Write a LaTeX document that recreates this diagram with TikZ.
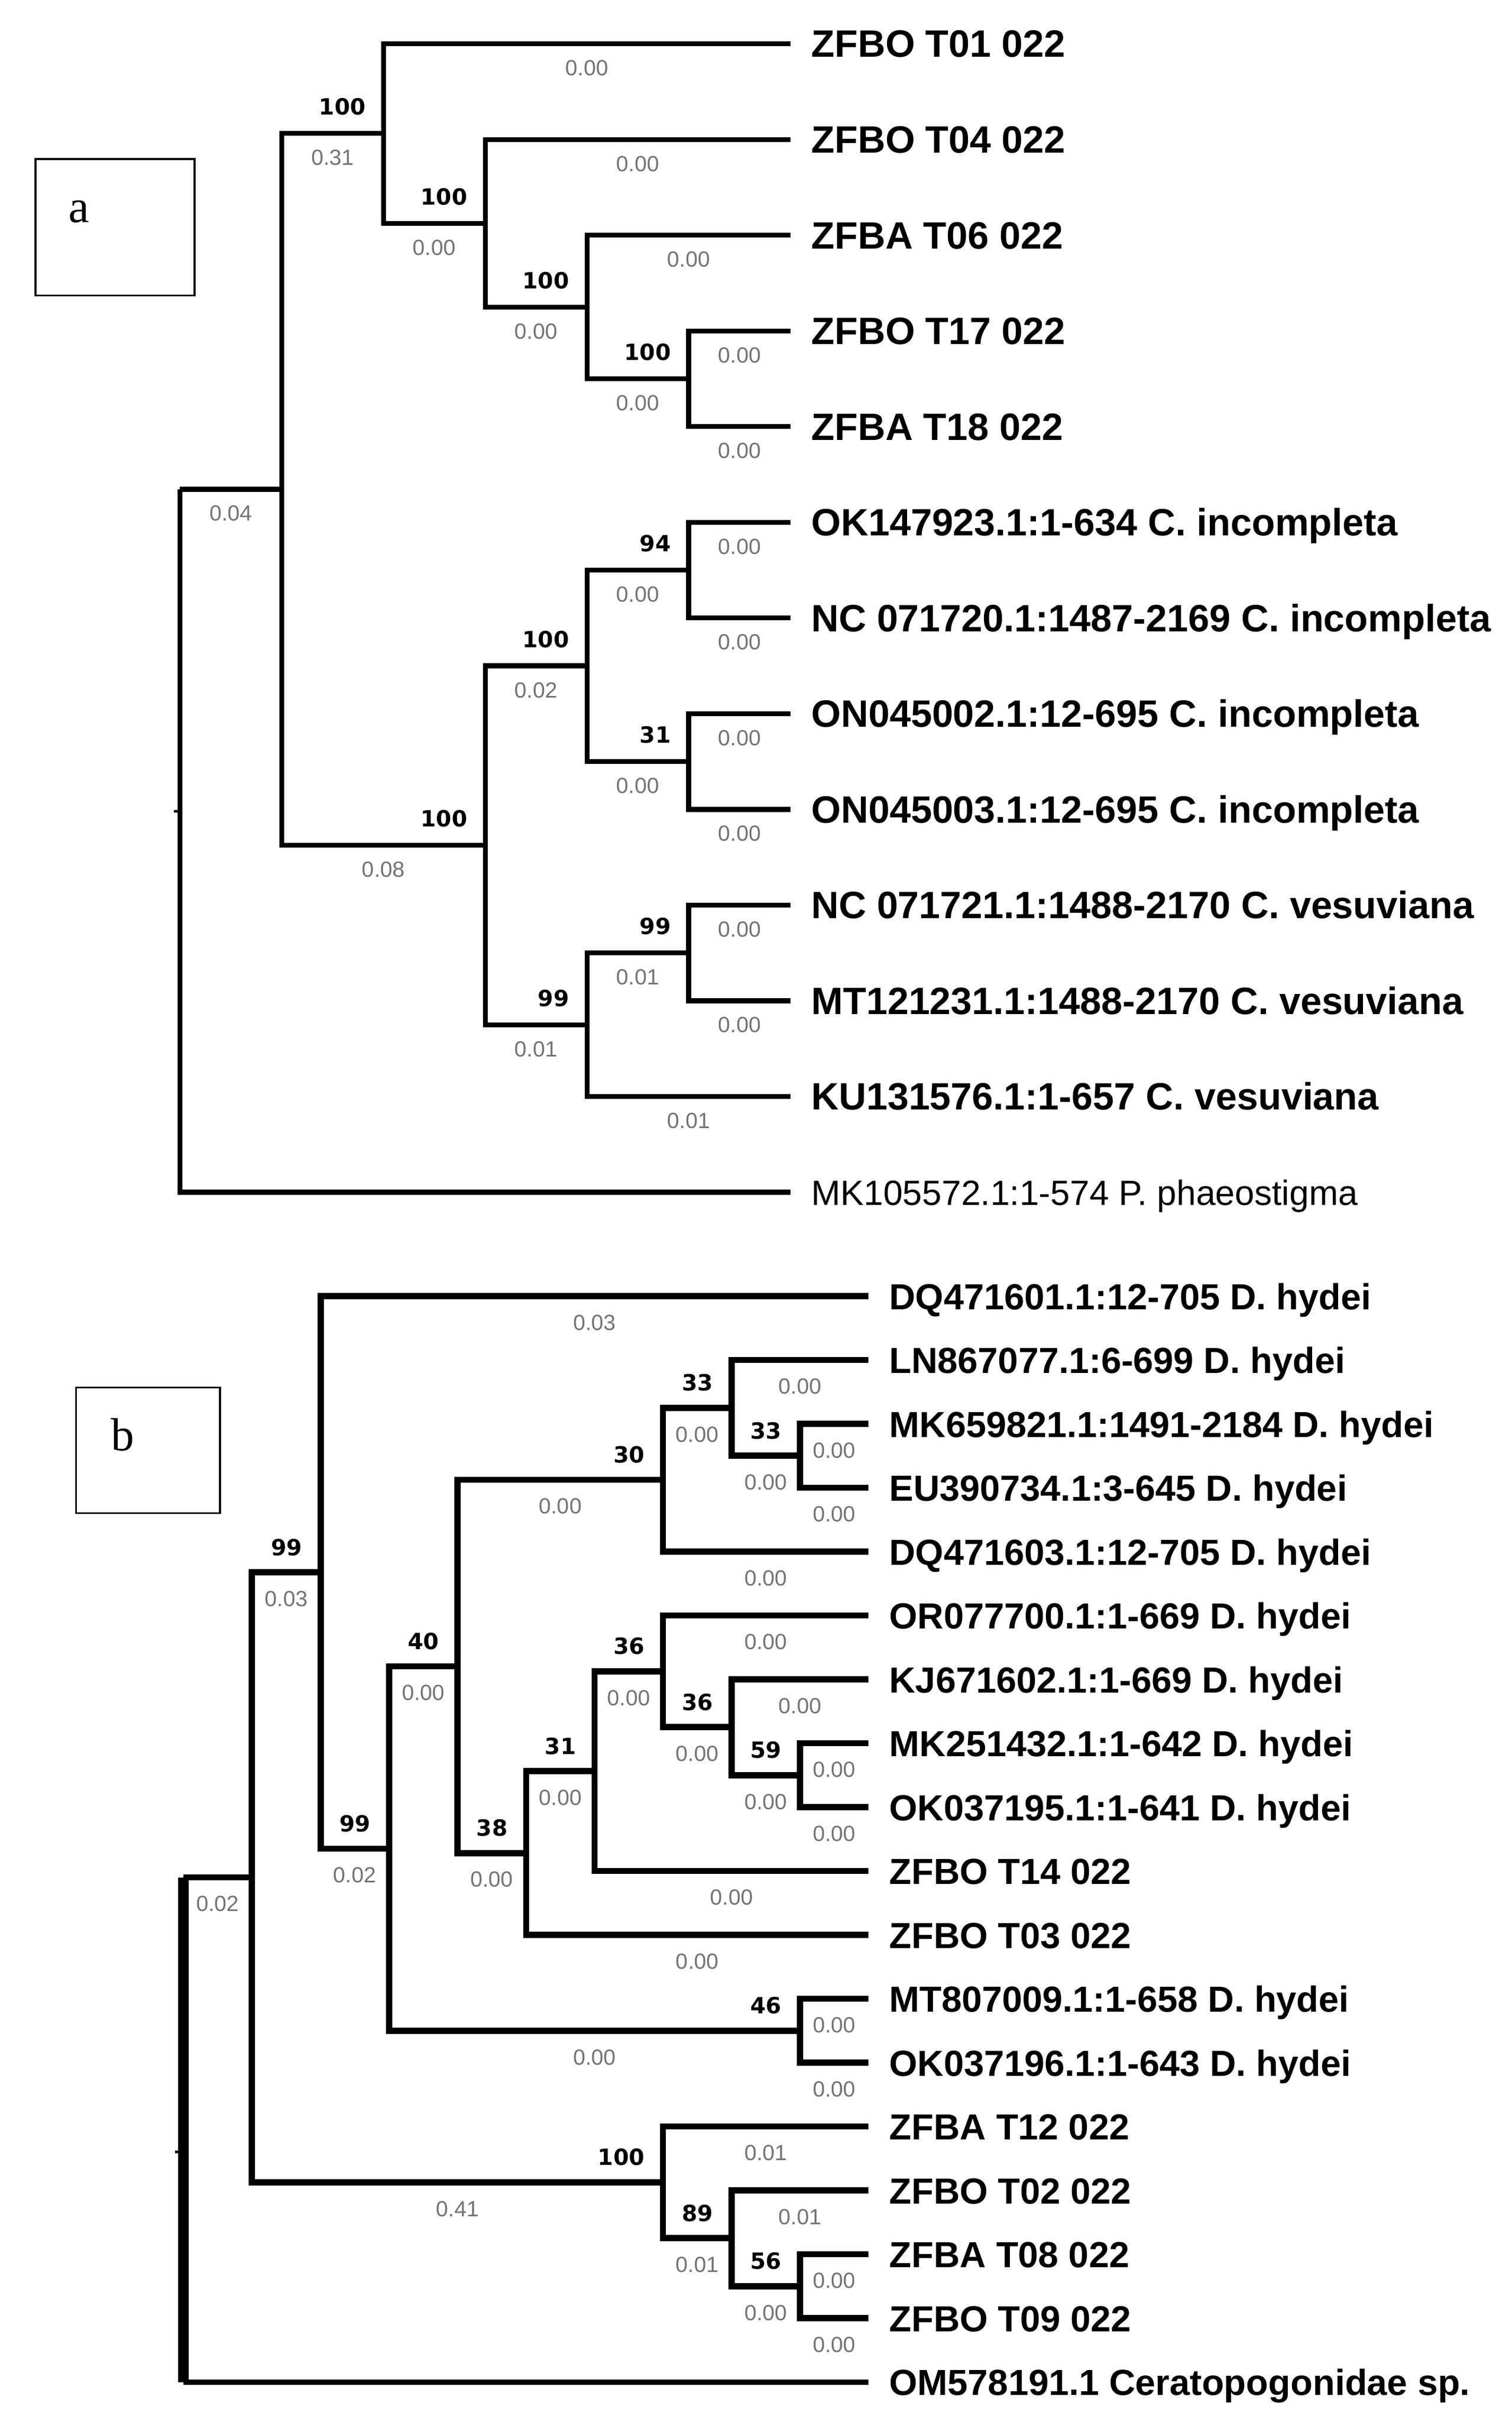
\documentclass[tikz,border=0pt]{standalone}
\usepackage{fontspec}
\setmainfont{Liberation Sans}
\newfontfamily\supfont{DejaVu Sans}
\newfontfamily\lettrefont{Liberation Serif}
\usepackage{tikz}
\tikzset{
Branche/.style={
 draw=black,
 line width=#1,
 line join=miter
 },
Branche/.default={2.7pt},
Support/.style={
 font={\supfont\bfseries\fontsize{12.3}{14}\selectfont},
 anchor=base east,
 inner sep=0pt,
 xshift=-8.5pt,
 yshift=#1
 },
Support/.default={10.2pt},
Longueur/.style={
 font={\fontsize{12.1}{14}\selectfont},
 text=black!55,
 anchor=north,
 inner sep=0pt,
 yshift=#1
 },
Longueur/.default={-7.7pt},
Feuille/.style={
 font={\bfseries\fontsize{#1}{#1}\selectfont},
 anchor=base west,
 inner sep=0pt,
 xshift=11.3pt,
 yshift=-7.4pt
 },
Feuille/.default={21},
FeuilleSimple/.style={
 font={\fontsize{19.3}{20}\selectfont},
 anchor=base west,
 inner sep=0pt,
 xshift=11.3pt,
 yshift=-7.1pt
 },
Cadre/.style={
 draw=black,
 line width=1pt,
 inner sep=0pt
 },
Lettre/.style={
 font={\lettrefont\fontsize{25.6}{26}\selectfont},
 anchor=base west,
 inner sep=0pt
 }
}
\begin{document}
\begin{tikzpicture}[x=0.3mm,y=-0.3mm]
\useasboundingbox (0,0) rectangle (976,1564.1);
% arbre a
\node[Cadre,minimum width=30.81mm,minimum height=26.43mm] (cadre-a) at (74.35,146.75) {};
\node[Lettre] (lettre-a) at (44.0,143.5) {a};
\coordinate (a-root) at (116.2,316.0);
\coordinate (a-A) at (181.9,316.0);
\coordinate (a-B) at (247.6,86.2);
\coordinate (a-C) at (313.3,144.2);
\coordinate (a-D) at (379.0,198.3);
\coordinate (a-E) at (444.7,244.6);
\coordinate (a-F) at (313.3,545.9);
\coordinate (a-G) at (379.0,430.0);
\coordinate (a-H) at (444.7,368.2);
\coordinate (a-I) at (444.7,491.8);
\coordinate (a-J) at (379.0,661.8);
\coordinate (a-K) at (444.7,615.4);
\coordinate (a-t01) at (510.4,28.3);
\coordinate (a-t04) at (510.4,90.1);
\coordinate (a-t06) at (510.4,151.9);
\coordinate (a-t17) at (510.4,213.7);
\coordinate (a-t18) at (510.4,275.5);
\coordinate (a-ok923) at (510.4,337.3);
\coordinate (a-nc720) at (510.4,399.1);
\coordinate (a-on002) at (510.4,460.9);
\coordinate (a-on003) at (510.4,522.7);
\coordinate (a-nc721) at (510.4,584.5);
\coordinate (a-mt231) at (510.4,646.3);
\coordinate (a-ku576) at (510.4,708.1);
\coordinate (a-mk572) at (510.4,769.9);
\coordinate (a-tick) at (116.2,524.0);
\draw[Branche] (a-root) |- (a-A) node[pos=0.75,Longueur] (len-a-A) {0.04};
\draw[Branche] (a-root) |- (a-mk572);
\draw[line width=1.5pt] (a-tick) -- ++(-3.8,0);
\draw[Branche] (a-A) |- (a-B) node[pos=0.75,Longueur] (len-a-B) {0.31} node[pos=1,Support] (bs-a-B) {100};
\draw[Branche] (a-A) |- (a-F) node[pos=0.75,Longueur] (len-a-F) {0.08} node[pos=1,Support] (bs-a-F) {100};
\draw[Branche] (a-B) |- (a-t01) node[pos=0.75,Longueur] (len-a-t01) {0.00};
\draw[Branche] (a-B) |- (a-C) node[pos=0.75,Longueur] (len-a-C) {0.00} node[pos=1,Support] (bs-a-C) {100};
\draw[Branche] (a-C) |- (a-t04) node[pos=0.75,Longueur] (len-a-t04) {0.00};
\draw[Branche] (a-C) |- (a-D) node[pos=0.75,Longueur] (len-a-D) {0.00} node[pos=1,Support] (bs-a-D) {100};
\draw[Branche] (a-D) |- (a-t06) node[pos=0.75,Longueur] (len-a-t06) {0.00};
\draw[Branche] (a-D) |- (a-E) node[pos=0.75,Longueur] (len-a-E) {0.00} node[pos=1,Support] (bs-a-E) {100};
\draw[Branche] (a-E) |- (a-t17) node[pos=0.75,Longueur] (len-a-t17) {0.00};
\draw[Branche] (a-E) |- (a-t18) node[pos=0.75,Longueur] (len-a-t18) {0.00};
\draw[Branche] (a-F) |- (a-G) node[pos=0.75,Longueur] (len-a-G) {0.02} node[pos=1,Support] (bs-a-G) {100};
\draw[Branche] (a-F) |- (a-J) node[pos=0.75,Longueur] (len-a-J) {0.01} node[pos=1,Support] (bs-a-J) {99};
\draw[Branche] (a-G) |- (a-H) node[pos=0.75,Longueur] (len-a-H) {0.00} node[pos=1,Support] (bs-a-H) {94};
\draw[Branche] (a-G) |- (a-I) node[pos=0.75,Longueur] (len-a-I) {0.00} node[pos=1,Support] (bs-a-I) {31};
\draw[Branche] (a-H) |- (a-ok923) node[pos=0.75,Longueur] (len-a-ok923) {0.00};
\draw[Branche] (a-H) |- (a-nc720) node[pos=0.75,Longueur] (len-a-nc720) {0.00};
\draw[Branche] (a-I) |- (a-on002) node[pos=0.75,Longueur] (len-a-on002) {0.00};
\draw[Branche] (a-I) |- (a-on003) node[pos=0.75,Longueur] (len-a-on003) {0.00};
\draw[Branche] (a-J) |- (a-K) node[pos=0.75,Longueur] (len-a-K) {0.01} node[pos=1,Support] (bs-a-K) {99};
\draw[Branche] (a-J) |- (a-ku576) node[pos=0.75,Longueur] (len-a-ku576) {0.01};
\draw[Branche] (a-K) |- (a-nc721) node[pos=0.75,Longueur] (len-a-nc721) {0.00};
\draw[Branche] (a-K) |- (a-mt231) node[pos=0.75,Longueur] (len-a-mt231) {0.00};
\node[Feuille] (lab-a-t01) at (a-t01) {ZFBO T01 022};
\node[Feuille] (lab-a-t04) at (a-t04) {ZFBO T04 022};
\node[Feuille] (lab-a-t06) at (a-t06) {ZFBA T06 022};
\node[Feuille] (lab-a-t17) at (a-t17) {ZFBO T17 022};
\node[Feuille] (lab-a-t18) at (a-t18) {ZFBA T18 022};
\node[Feuille] (lab-a-ok923) at (a-ok923) {OK147923.1:1-634 C. incompleta};
\node[Feuille] (lab-a-nc720) at (a-nc720) {NC 071720.1:1487-2169 C. incompleta};
\node[Feuille] (lab-a-on002) at (a-on002) {ON045002.1:12-695 C. incompleta};
\node[Feuille] (lab-a-on003) at (a-on003) {ON045003.1:12-695 C. incompleta};
\node[Feuille] (lab-a-nc721) at (a-nc721) {NC 071721.1:1488-2170 C. vesuviana};
\node[Feuille] (lab-a-mt231) at (a-mt231) {MT121231.1:1488-2170 C. vesuviana};
\node[Feuille] (lab-a-ku576) at (a-ku576) {KU131576.1:1-657 C. vesuviana};
\node[FeuilleSimple] (lab-a-mk572) at (a-mk572) {MK105572.1:1-574 P. phaeostigma};
% arbre b
\begin{scope}[Branche/.default={3.4pt},Support/.default={9.4pt},Longueur/.default={-8.6pt}]
\node[Cadre,minimum width=27.9mm,minimum height=24.33mm] (cadre-b) at (95.6,936.55) {};
\node[Lettre] (lettre-b) at (71.5,936.9) {b};
\coordinate (b-root) at (118.5,1212.4);
\coordinate (b-R) at (162.7,1212.4);
\coordinate (b-S) at (207.0,1015.4);
\coordinate (b-T) at (251.2,1193.8);
\coordinate (b-U) at (295.4,1076.1);
\coordinate (b-V) at (428.1,955.6);
\coordinate (b-X) at (472.3,909.2);
\coordinate (b-Y) at (516.6,940.1);
\coordinate (b-W) at (339.7,1196.7);
\coordinate (b-Z) at (383.9,1143.8);
\coordinate (b-AA) at (428.1,1079.3);
\coordinate (b-AB) at (472.3,1115.4);
\coordinate (b-AC) at (516.6,1146.4);
\coordinate (b-M) at (516.6,1311.4);
\coordinate (b-AD) at (428.1,1409.3);
\coordinate (b-AE) at (472.3,1445.4);
\coordinate (b-AF) at (516.6,1476.4);
\coordinate (b-dq601) at (560.8,837.0);
\coordinate (b-ln077) at (560.8,878.25);
\coordinate (b-mk821) at (560.8,919.5);
\coordinate (b-eu734) at (560.8,960.75);
\coordinate (b-dq603) at (560.8,1002.0);
\coordinate (b-or700) at (560.8,1043.25);
\coordinate (b-kj602) at (560.8,1084.5);
\coordinate (b-mk432) at (560.8,1125.75);
\coordinate (b-ok195) at (560.8,1167.0);
\coordinate (b-t14) at (560.8,1208.25);
\coordinate (b-t03) at (560.8,1249.5);
\coordinate (b-mt009) at (560.8,1290.75);
\coordinate (b-ok196) at (560.8,1332.0);
\coordinate (b-t12) at (560.8,1373.25);
\coordinate (b-t02) at (560.8,1414.5);
\coordinate (b-t08) at (560.8,1455.75);
\coordinate (b-t09) at (560.8,1497.0);
\coordinate (b-om191) at (560.8,1538.25);
\coordinate (b-tick) at (118.5,1389.6);
\draw[Branche] (b-root) -- (b-R) node[pos=0.5,Longueur] (len-b-R) {0.02};
\draw[Branche=6pt] (b-root) -- (b-root |- b-om191);
\draw[Branche=2.9pt] (b-root |- b-om191) -- (b-om191);
\draw[line width=1.5pt] (b-tick) -- ++(-5.5,0);
\draw[Branche] (b-R) |- (b-S) node[pos=0.75,Longueur] (len-b-S) {0.03} node[pos=1,Support] (bs-b-S) {99};
\draw[Branche] (b-R) |- (b-AD) node[pos=0.75,Longueur] (len-b-AD) {0.41} node[pos=1,Support] (bs-b-AD) {100};
\draw[Branche] (b-S) |- (b-dq601) node[pos=0.75,Longueur] (len-b-dq601) {0.03};
\draw[Branche] (b-S) |- (b-T) node[pos=0.75,Longueur] (len-b-T) {0.02} node[pos=1,Support] (bs-b-T) {99};
\draw[Branche] (b-T) |- (b-U) node[pos=0.75,Longueur] (len-b-U) {0.00} node[pos=1,Support] (bs-b-U) {40};
\draw[Branche] (b-T) |- (b-M) node[pos=0.75,Longueur] (len-b-M) {0.00} node[pos=1,Support] (bs-b-M) {46};
\draw[Branche] (b-U) |- (b-V) node[pos=0.75,Longueur] (len-b-V) {0.00} node[pos=1,Support] (bs-b-V) {30};
\draw[Branche] (b-U) |- (b-W) node[pos=0.75,Longueur] (len-b-W) {0.00} node[pos=1,Support] (bs-b-W) {38};
\draw[Branche] (b-V) |- (b-X) node[pos=0.75,Longueur] (len-b-X) {0.00} node[pos=1,Support] (bs-b-X) {33};
\draw[Branche] (b-V) |- (b-dq603) node[pos=0.75,Longueur] (len-b-dq603) {0.00};
\draw[Branche] (b-X) |- (b-ln077) node[pos=0.75,Longueur] (len-b-ln077) {0.00};
\draw[Branche] (b-X) |- (b-Y) node[pos=0.75,Longueur] (len-b-Y) {0.00} node[pos=1,Support] (bs-b-Y) {33};
\draw[Branche] (b-Y) |- (b-mk821) node[pos=0.75,Longueur] (len-b-mk821) {0.00};
\draw[Branche] (b-Y) |- (b-eu734) node[pos=0.75,Longueur] (len-b-eu734) {0.00};
\draw[Branche] (b-W) |- (b-Z) node[pos=0.75,Longueur] (len-b-Z) {0.00} node[pos=1,Support] (bs-b-Z) {31};
\draw[Branche] (b-W) |- (b-t03) node[pos=0.75,Longueur] (len-b-t03) {0.00};
\draw[Branche] (b-Z) |- (b-AA) node[pos=0.75,Longueur] (len-b-AA) {0.00} node[pos=1,Support] (bs-b-AA) {36};
\draw[Branche] (b-Z) |- (b-t14) node[pos=0.75,Longueur] (len-b-t14) {0.00};
\draw[Branche] (b-AA) |- (b-or700) node[pos=0.75,Longueur] (len-b-or700) {0.00};
\draw[Branche] (b-AA) |- (b-AB) node[pos=0.75,Longueur] (len-b-AB) {0.00} node[pos=1,Support] (bs-b-AB) {36};
\draw[Branche] (b-AB) |- (b-kj602) node[pos=0.75,Longueur] (len-b-kj602) {0.00};
\draw[Branche] (b-AB) |- (b-AC) node[pos=0.75,Longueur] (len-b-AC) {0.00} node[pos=1,Support] (bs-b-AC) {59};
\draw[Branche] (b-AC) |- (b-mk432) node[pos=0.75,Longueur] (len-b-mk432) {0.00};
\draw[Branche] (b-AC) |- (b-ok195) node[pos=0.75,Longueur] (len-b-ok195) {0.00};
\draw[Branche] (b-M) |- (b-mt009) node[pos=0.75,Longueur] (len-b-mt009) {0.00};
\draw[Branche] (b-M) |- (b-ok196) node[pos=0.75,Longueur] (len-b-ok196) {0.00};
\draw[Branche] (b-AD) |- (b-t12) node[pos=0.75,Longueur] (len-b-t12) {0.01};
\draw[Branche] (b-AD) |- (b-AE) node[pos=0.75,Longueur] (len-b-AE) {0.01} node[pos=1,Support] (bs-b-AE) {89};
\draw[Branche] (b-AE) |- (b-t02) node[pos=0.75,Longueur] (len-b-t02) {0.01};
\draw[Branche] (b-AE) |- (b-AF) node[pos=0.75,Longueur] (len-b-AF) {0.00} node[pos=1,Support] (bs-b-AF) {56};
\draw[Branche] (b-AF) |- (b-t08) node[pos=0.75,Longueur] (len-b-t08) {0.00};
\draw[Branche] (b-AF) |- (b-t09) node[pos=0.75,Longueur] (len-b-t09) {0.00};
\node[Feuille=20] (lab-b-dq601) at (b-dq601) {DQ471601.1:12-705 D. hydei};
\node[Feuille=20] (lab-b-ln077) at (b-ln077) {LN867077.1:6-699 D. hydei};
\node[Feuille=20] (lab-b-mk821) at (b-mk821) {MK659821.1:1491-2184 D. hydei};
\node[Feuille=20] (lab-b-eu734) at (b-eu734) {EU390734.1:3-645 D. hydei};
\node[Feuille=20] (lab-b-dq603) at (b-dq603) {DQ471603.1:12-705 D. hydei};
\node[Feuille=20] (lab-b-or700) at (b-or700) {OR077700.1:1-669 D. hydei};
\node[Feuille=20] (lab-b-kj602) at (b-kj602) {KJ671602.1:1-669 D. hydei};
\node[Feuille=20] (lab-b-mk432) at (b-mk432) {MK251432.1:1-642 D. hydei};
\node[Feuille=20] (lab-b-ok195) at (b-ok195) {OK037195.1:1-641 D. hydei};
\node[Feuille=20] (lab-b-t14) at (b-t14) {ZFBO T14 022};
\node[Feuille=20] (lab-b-t03) at (b-t03) {ZFBO T03 022};
\node[Feuille=20] (lab-b-mt009) at (b-mt009) {MT807009.1:1-658 D. hydei};
\node[Feuille=20] (lab-b-ok196) at (b-ok196) {OK037196.1:1-643 D. hydei};
\node[Feuille=20] (lab-b-t12) at (b-t12) {ZFBA T12 022};
\node[Feuille=20] (lab-b-t02) at (b-t02) {ZFBO T02 022};
\node[Feuille=20] (lab-b-t08) at (b-t08) {ZFBA T08 022};
\node[Feuille=20] (lab-b-t09) at (b-t09) {ZFBO T09 022};
\node[Feuille=20] (lab-b-om191) at (b-om191) {OM578191.1 Ceratopogonidae sp.};
\end{scope}
\end{tikzpicture}
\end{document}
